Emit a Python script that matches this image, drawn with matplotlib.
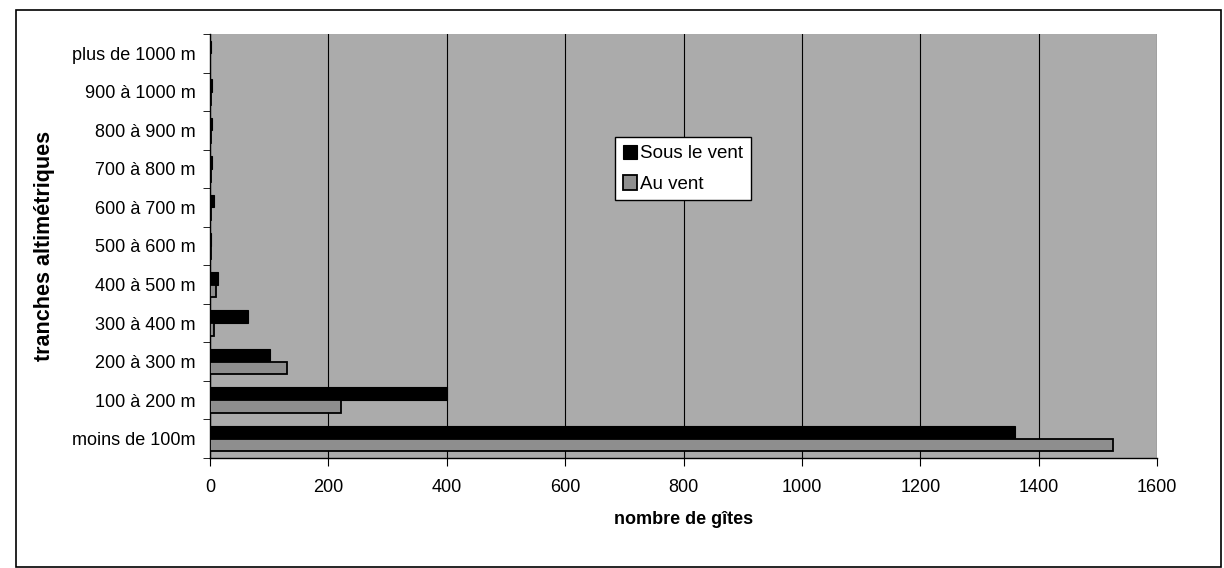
import matplotlib.pyplot as plt
import numpy as np
from matplotlib.patches import Rectangle

plt.rcParams['font.family'] = ['Liberation Sans', 'DejaVu Sans']

# tranches altimétriques (bas -> haut)
tranches = ['moins de 100m', '100 à 200 m', '200 à 300 m', '300 à 400 m', '400 à 500 m',
            '500 à 600 m', '600 à 700 m', '700 à 800 m', '800 à 900 m', '900 à 1000 m',
            'plus de 1000 m']
sous_le_vent = [1360, 400, 101, 65, 14, 2, 6, 3, 4, 3, 1]
au_vent = [1525, 222, 130, 7, 10, 1, 2, 1, 1, 1, 0]

fig = plt.figure(figsize=(12.24, 5.68), dpi=100)
ax = fig.add_axes([210 / 1224, 1 - 458 / 568, 947 / 1224, 424 / 568])

y = np.arange(len(tranches))
h = 0.33
ax.set_facecolor('#ababab')
ax.barh(y + h / 2, sous_le_vent, height=h, color='black', edgecolor='black', linewidth=0.8,
        label='Sous le vent', zorder=3)
ax.barh(y - h / 2, au_vent, height=h, color='#8e8e8e', edgecolor='black', linewidth=1.3,
        label='Au vent', zorder=3)

ax.set_xlim(0, 1600)
ax.set_ylim(-0.5, len(tranches) - 0.5)
ax.set_xticks(range(0, 1601, 200))
ax.set_yticks(y)
ax.set_yticklabels(tranches)
ax.set_yticks(np.arange(-0.5, len(tranches), 1), minor=True)
ax.tick_params(axis='y', which='major', length=0, pad=10.5, labelsize=13)
ax.tick_params(axis='y', which='minor', length=5, direction='out')
ax.tick_params(axis='x', length=6, direction='out', labelsize=13, pad=9)
ax.grid(axis='x', color='black', linewidth=0.8, zorder=1)
for s in ['top', 'right']:
    ax.spines[s].set_visible(False)
ax.spines['left'].set_linewidth(1.0)
ax.spines['bottom'].set_linewidth(1.0)

ax.set_xlabel('nombre de gîtes', fontweight='bold', fontsize=13, labelpad=11)
ax.set_ylabel('tranches altimétriques', fontweight='bold', fontsize=15.5, labelpad=12)

leg = ax.legend(loc='upper left', bbox_to_anchor=(405 / 947, 1 - 103 / 424), frameon=True,
                fancybox=False, edgecolor='black', framealpha=1, fontsize=13.5,
                handlelength=0.75, handleheight=0.85, handletextpad=0.2, borderpad=0.4,
                labelspacing=0.65, borderaxespad=0)
leg.get_frame().set_linewidth(1.0)

# cadre du graphique
fig.patches.append(Rectangle((16 / 1224, 1 / 568), 1205 / 1224, 557 / 568, transform=fig.transFigure,
                             fill=False, edgecolor='black', linewidth=1.2))

fig.savefig('out.png', dpi=100)
